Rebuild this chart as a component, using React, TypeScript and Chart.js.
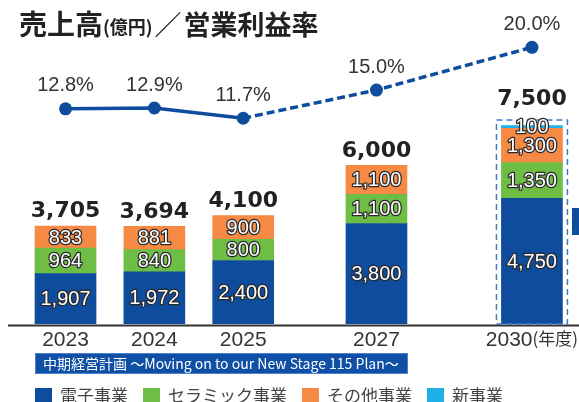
import React, { useEffect, useRef } from 'react';
import { Chart, registerables } from 'chart.js';

Chart.register(...registerables);

// ---- data ----
const years = ['2023', '2024', '2025', '2027', '2030'];
// category slots of the x axis (blank slots reproduce the uneven year spacing)
const axisSlots = ['', '', '2023', '', '', '', '2024', '', '', '', '2025', '', '', '', '', '', '2027', '', '', '', '', '', '', '2030', ''];
const electronics = [1907, 1972, 2400, 3800, 4750];
const ceramics = [964, 840, 800, 1100, 1350];
const others = [833, 881, 900, 1100, 1300];
const newBusiness = [null, null, null, null, 100];
const totals = [3705, 3694, 4100, 6000, 7500];
const operatingMargin = [12.8, 12.9, 11.7, 15.0, 20.0];
const seriesNames = ['電子事業', 'セラミック事業', 'その他事業', '新事業'];
const seriesColors = ['#0E4C9E', '#6EBD45', '#F68A45', '#1DB1E7'];
const lineColor = '#0E4C9E';
const planFromYear = '2025';
const highlightYear = '2030';
const yearUnit = '(年度)';
const titleMain = '売上高';
const titleUnit = '(億円)';
const titleSep = '／';
const titleSub = '営業利益率';
const bannerText = '中期経営計画 ～Moving on to our New Stage 115 Plan～';

const toSlots = (arr: (number | null)[]) =>
  axisSlots.map((s) => {
    const i = years.indexOf(s);
    return i < 0 ? null : arr[i];
  });

const CJK = '"Noto Sans CJK JP", "Noto Sans", sans-serif';
const LAT = '"Liberation Sans", Arial, sans-serif';

const overlay = {
  id: 'overlay',
  afterDatasetsDraw(chart: any) {
    const ctx = chart.ctx as CanvasRenderingContext2D;
    const ys = chart.scales.y;
    const xs = chart.scales.x;
    ctx.save();

    // x-axis line
    ctx.strokeStyle = '#333';
    ctx.lineWidth = 2;
    ctx.beginPath();
    ctx.moveTo(8, 325.5);
    ctx.lineTo(579, 325.5);
    ctx.stroke();

    // dashed highlight box
    const hIdx = axisSlots.indexOf(highlightYear);
    const hx = xs.getPixelForValue(hIdx);
    const hTop = ys.getPixelForValue(totals[years.indexOf(highlightYear)]);
    ctx.setLineDash([6, 4]);
    ctx.strokeStyle = '#3A7BC8';
    ctx.lineWidth = 1.5;
    ctx.strokeRect(hx - 35.5, hTop - 5.5, 71, ys.getPixelForValue(0) - hTop + 5.5);
    ctx.setLineDash([]);

    // segment labels
    ctx.textAlign = 'center';
    ctx.textBaseline = 'middle';
    ctx.font = `20px ${LAT}`;
    ctx.lineJoin = 'round';
    for (let d = 0; d < 4; d++) {
      const meta = chart.getDatasetMeta(d);
      const data = chart.data.datasets[d].data;
      meta.data.forEach((el: any, i: number) => {
        const v = data[i];
        if (v == null) return;
        const { x, y, base } = el.getProps(['x', 'y', 'base'], true);
        const cy = (y + base) / 2 + 1;
        const s = v.toLocaleString('en-US');
        ctx.lineWidth = 2.5;
        ctx.strokeStyle = '#2a2a2a';
        ctx.strokeText(s, x, cy);
        ctx.fillStyle = '#ffffff';
        ctx.fillText(s, x, cy);
      });
    }

    // totals
    ctx.font = `bold 22px "DejaVu Sans", ${LAT}`;
    ctx.fillStyle = '#222';
    ctx.textBaseline = 'alphabetic';
    years.forEach((yr, i) => {
      const x = xs.getPixelForValue(axisSlots.indexOf(yr));
      const top = ys.getPixelForValue(totals[i]);
      const off = yr === highlightYear ? 21 : 8.5;
      ctx.fillText(totals[i].toLocaleString('en-US'), x, top - off);
    });

    // margin labels
    const lm = chart.getDatasetMeta(4);
    const ldata = chart.data.datasets[4].data;
    ctx.font = `20px ${LAT}`;
    ctx.fillStyle = '#333';
    ctx.textBaseline = 'middle';
    lm.data.forEach((el: any, i: number) => {
      const v = ldata[i];
      if (v == null) return;
      ctx.fillText(v.toFixed(1) + '%', el.x, el.y - 23);
    });

    // x labels
    ctx.textBaseline = 'alphabetic';
    years.forEach((yr) => {
      const x = xs.getPixelForValue(axisSlots.indexOf(yr));
      ctx.fillStyle = '#333';
      if (yr === highlightYear) {
        ctx.font = `21px ${LAT}`;
        const w1 = ctx.measureText(yr).width;
        ctx.font = `17px ${CJK}`;
        const w2 = ctx.measureText(yearUnit).width;
        const start = x - (w1 + w2) / 2;
        ctx.textAlign = 'left';
        ctx.font = `21px ${LAT}`;
        ctx.fillText(yr, start, 346);
        ctx.font = `17px ${CJK}`;
        ctx.fillText(yearUnit, start + w1, 345);
        ctx.textAlign = 'center';
      } else {
        ctx.font = `21px ${LAT}`;
        ctx.fillText(yr, x, 346);
      }
    });

    // title
    ctx.textAlign = 'left';
    ctx.fillStyle = '#222';
    let tx = 19;
    ctx.font = `bold 28px ${CJK}`;
    ctx.fillText(titleMain, tx, 35);
    tx += ctx.measureText(titleMain).width;
    ctx.font = `bold 18px ${CJK}`;
    ctx.fillText(titleUnit, tx, 34);
    tx += ctx.measureText(titleUnit).width + 2;
    ctx.font = `27px ${CJK}`;
    ctx.fillText(titleSep, tx, 35);
    tx += ctx.measureText(titleSep).width + 2;
    ctx.font = `bold 27px ${CJK}`;
    ctx.fillText(titleSub, tx, 35);

    // banner
    ctx.fillStyle = '#0F4FA5';
    ctx.fillRect(35, 353, 373, 21);
    ctx.strokeStyle = '#4B84CC';
    ctx.lineWidth = 1;
    ctx.strokeRect(35.5, 353.5, 372, 20);
    ctx.fillStyle = '#fff';
    ctx.font = `15px ${CJK}`;
    const bw = ctx.measureText(bannerText).width;
    const bSize = Math.min(15, (15 * 356) / bw);
    ctx.font = `${bSize.toFixed(2)}px ${CJK}`;
    ctx.textBaseline = 'middle';
    ctx.fillText(bannerText, 43, 364);

    // legend
    let lx = 35;
    ctx.font = `17px ${CJK}`;
    ctx.textBaseline = 'alphabetic';
    seriesNames.forEach((n, i) => {
      ctx.fillStyle = seriesColors[i];
      ctx.fillRect(lx, 388, 17, 17);
      lx += 25;
      ctx.fillStyle = '#444';
      ctx.fillText(n, lx, 402);
      lx += ctx.measureText(n).width + 15;
    });

    // cut-off decoration at right edge
    ctx.fillStyle = '#0E4C9E';
    ctx.fillRect(572, 208, 7, 27);

    ctx.restore();
  },
};

export default function App() {
  const ref = useRef<HTMLCanvasElement | null>(null);
  useEffect(() => {
    if (!ref.current) return;
    const planSlot = axisSlots.indexOf(planFromYear);
    const barSets = [electronics, ceramics, others, newBusiness].map((arr, i) => ({
      type: 'bar' as const,
      label: seriesNames[i],
      data: toSlots(arr),
      backgroundColor: seriesColors[i],
      borderWidth: 0,
      barThickness: 61,
      yAxisID: 'y',
      stack: 'sales',
      order: 2,
    }));
    const chart = new Chart(ref.current, {
      type: 'bar',
      data: {
        labels: axisSlots,
        datasets: [
          ...barSets,
          {
            type: 'line' as const,
            label: '営業利益率',
            data: toSlots(operatingMargin),
            yAxisID: 'y1',
            borderColor: lineColor,
            backgroundColor: lineColor,
            borderWidth: 3.5,
            pointRadius: 6.5,
            pointBorderWidth: 0,
            pointBackgroundColor: lineColor,
            spanGaps: true,
            clip: false,
            order: 1,
            segment: {
              borderDash: (c: any) => (c.p1DataIndex > planSlot ? [8, 4] : []),
            },
          } as any,
        ],
      },
      options: {
        responsive: false,
        animation: false,
        devicePixelRatio: 1,
        layout: { padding: { left: 10, right: 13.75, top: 33, bottom: 78 } },
        plugins: {
          legend: { display: false },
          tooltip: { enabled: false },
          title: { display: false },
        },
        scales: {
          x: { type: 'category', display: false, stacked: true, offset: true },
          y: { display: false, stacked: true, min: 0, max: 11000 },
          y1: { display: false, min: -12.36, max: 21.67 },
        },
      } as any,
      plugins: [overlay],
    });
    return () => chart.destroy();
  }, []);
  return (
    <div style={{ position: 'fixed', left: 0, top: 0, width: 579, height: 402, background: '#fff' }}>
      <canvas ref={ref} width={579} height={402} style={{ width: 579, height: 402, display: 'block' }} />
    </div>
  );
}
